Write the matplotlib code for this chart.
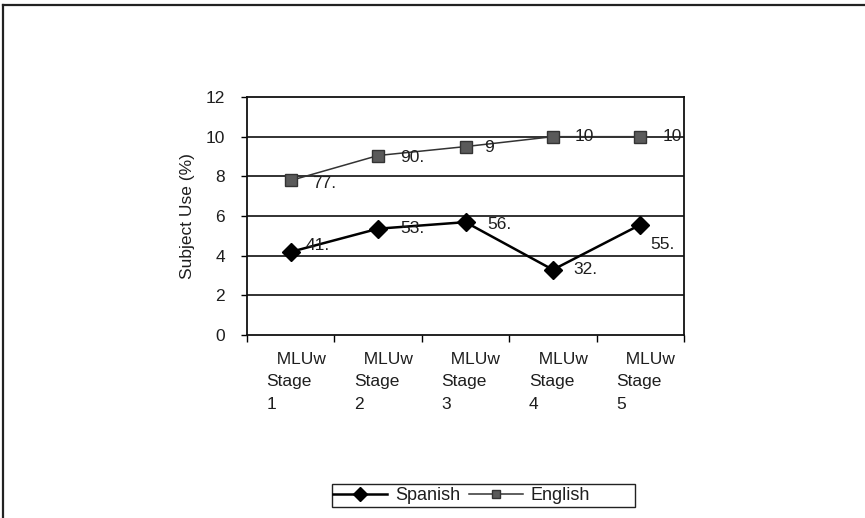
import matplotlib
matplotlib.use("Agg")
import matplotlib.pyplot as plt
from matplotlib.lines import Line2D
from matplotlib.patches import Rectangle

plt.rcParams['font.family'] = ['Liberation Sans', 'DejaVu Sans']

# Data: subject use (%) per MLUw stage
stages = ["1", "2", "3", "4", "5"]
spanish = [41.9, 53.6, 56.9, 32.9, 55.6]
english = [77.9, 90.5, 95.0, 100.0, 100.0]
spanish_labels = ["41.", "53.", "56.", "32.", "55."]
english_labels = ["77.", "90.", "9", "10", "10"]
yticks = [0, 2, 4, 6, 8, 10, 12]
scale = 10.0  # axis is drawn in tens of percent

FS = 12.5
INK = "#1e1e1e"
W, H = 865, 518

fig = plt.figure(figsize=(W / 100, H / 100), dpi=100)
fig.patch.set_facecolor("white")

# outer frame (top and left edges)
fig.add_artist(Line2D([3/W, 1.0], [1 - 5/H, 1 - 5/H], color="#222222", lw=1.6,
                      transform=fig.transFigure))
fig.add_artist(Line2D([3/W, 3/W], [0.0, 1 - 5/H], color="#222222", lw=1.6,
                      transform=fig.transFigure))

ax = fig.add_axes([247/W, 1 - 335/H, (684 - 247)/W, (335 - 97)/H])
x = [i + 0.5 for i in range(len(stages))]

ax.set_xlim(0, len(stages))
ax.set_ylim(yticks[0], yticks[-1])

for gy in yticks[1:-1]:
    ax.axhline(gy, color="#222222", lw=1.3, zorder=1)

for s in ["top", "right", "left", "bottom"]:
    ax.spines[s].set_color("#111111")
    ax.spines[s].set_linewidth(1.3)

ax.set_yticks(yticks)
ax.set_yticklabels([str(t) for t in yticks], fontsize=FS, color=INK)
ax.tick_params(axis="y", direction="out", length=4, width=1, pad=12)
ax.set_xticks(range(len(stages) + 1))
ax.set_xticklabels([])
ax.tick_params(axis="x", direction="out", length=5, width=1)
ax.set_ylabel("Subject Use (%)", fontsize=FS, labelpad=7.5, color=INK)

sp = [v / scale for v in spanish]
en = [v / scale for v in english]

ax.plot(x, sp, color="black", lw=1.8, marker="D", ms=9.5, mfc="black", mec="black",
        zorder=3, label="Spanish", clip_on=False)
ax.plot(x, en, color="#333333", lw=1.1, marker="s", ms=8, mfc="#5a5a5a", mec="#333333",
        mew=1, zorder=3, label="English", clip_on=False)

sp_off = [(15, 6), (22, 0), (22, -2), (20, 0), (10, -20)]
en_off = [(21, -3), (22, -2), (19, -1), (22, 0), (22, 0)]
for xi, yi, lab, (dx, dy) in zip(x, sp, spanish_labels, sp_off):
    ax.annotate(lab, (xi, yi), xytext=(dx * 0.72, dy * 0.72), textcoords="offset points",
                ha="left", va="center", fontsize=FS, color=INK, zorder=4)
for xi, yi, lab, (dx, dy) in zip(x, en, english_labels, en_off):
    ax.annotate(lab, (xi, yi), xytext=(dx * 0.72, dy * 0.72), textcoords="offset points",
                ha="left", va="center", fontsize=FS, color=INK, zorder=4)

# category labels
for xi, st in zip(x, stages):
    ax.text(xi - 0.275, -0.07, "  MLUw\nStage\n" + st, transform=ax.get_xaxis_transform(),
            ha="left", va="top", fontsize=FS, linespacing=1.62, color=INK)

# legend: box drawn separately, entries placed inside it
fig.add_artist(Rectangle((332/W, 1 - 507/H), (635 - 332)/W, (507 - 484)/H,
                         transform=fig.transFigure, fill=False, edgecolor="#222222", lw=1.0))
leg = fig.legend(loc="center left", bbox_to_anchor=(333/W, 1 - 495.5/H),
                 ncol=2, frameon=False, fontsize=13, handlelength=3.0,
                 columnspacing=0.45, handletextpad=0.45, borderpad=0.0, borderaxespad=0,
                 markerscale=0.8)
for t in leg.get_texts():
    t.set_color(INK)

fig.savefig("out.png", dpi=100, facecolor="white")
